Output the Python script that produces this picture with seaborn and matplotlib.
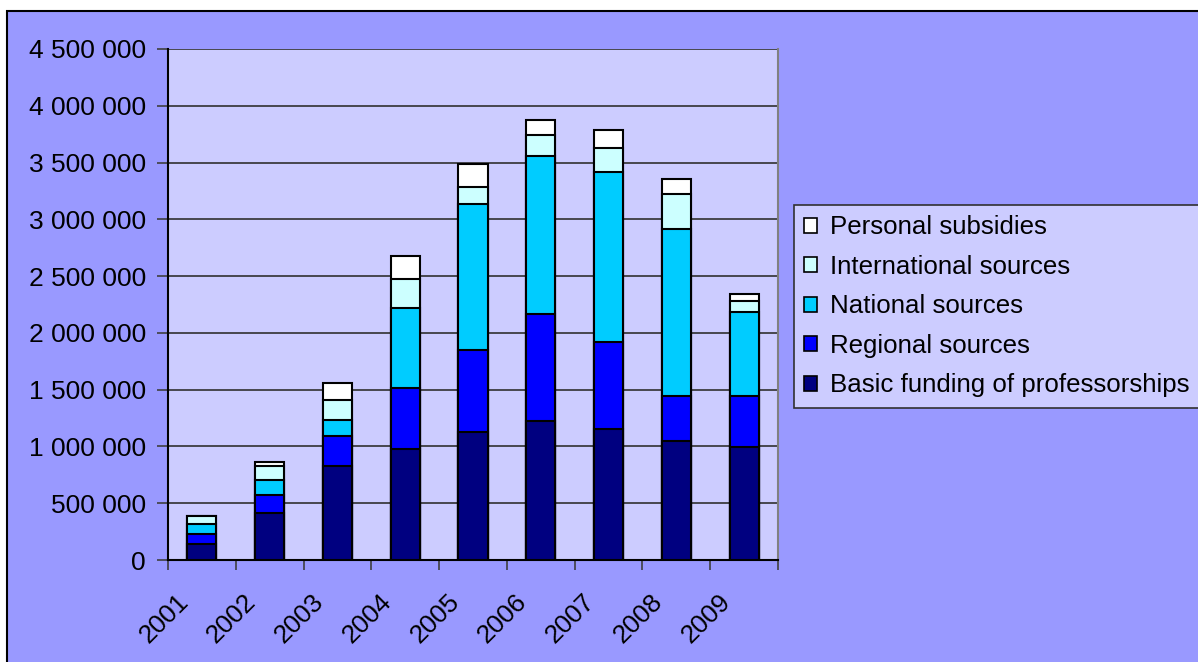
import numpy as np
import pandas as pd
import seaborn as sns
import matplotlib.pyplot as plt
import matplotlib.transforms as mtransforms
from matplotlib.patches import Rectangle, Patch
from matplotlib.ticker import FuncFormatter, MultipleLocator, FixedLocator

# data
years = ['2001', '2002', '2003', '2004', '2005', '2006', '2007', '2008', '2009']
basic = [138000, 414000, 830000, 980000, 1124000, 1226000, 1153000, 1050000, 995000]
regional = [91000, 158000, 262000, 534000, 727000, 942000, 766000, 394000, 449000]
national = [85000, 132000, 143000, 707000, 1283000, 1388000, 1494000, 1472000, 736000]
international = [73000, 126000, 176000, 250000, 147000, 191000, 214000, 303000, 97000]
personal = [0, 35000, 147000, 205000, 205000, 129000, 161000, 135000, 65000]

series = ['Basic funding of professorships', 'Regional sources', 'National sources',
          'International sources', 'Personal subsidies']
colors = ['#000080', '#0000FF', '#00CCFF', '#CCFFFF', '#FFFFFF']

df = pd.DataFrame({'year': years, series[0]: basic, series[1]: regional,
                   series[2]: national, series[3]: international, series[4]: personal})
cum = df[series].cumsum(axis=1)

sns.set_style('white')
plt.rcParams['font.family'] = ['Liberation Sans', 'DejaVu Sans']
plt.rcParams['text.color'] = 'black'
plt.rcParams['xtick.color'] = 'black'
plt.rcParams['ytick.color'] = 'black'

fig = plt.figure(figsize=(11.98, 6.62), dpi=100, facecolor='white')
# outer chart area
bg = Rectangle((7 / 1198, -0.05), 1.1, (651 / 662) + 0.05,
               transform=fig.transFigure, facecolor='#9999FF',
               edgecolor='black', linewidth=1.5, zorder=-10)
fig.add_artist(bg)

ax = fig.add_axes([168 / 1198, 1 - 560 / 662, 610 / 1198, 511 / 662])
ax.set_facecolor('#CCCCFF')

# stacked bars: draw cumulative totals from tallest to shortest
for name, col in zip(series[::-1], colors[::-1]):
    sns.barplot(x=df['year'], y=cum[name], color=col, saturation=1, width=0.43,
                edgecolor='black', linewidth=1.5, ax=ax, zorder=3)

ax.set_xlim(-0.5, 8.5)
ax.set_ylim(0, 4500000)
ax.yaxis.set_major_locator(MultipleLocator(500000))
ax.yaxis.set_major_formatter(FuncFormatter(lambda v, p: f'{v:,.0f}'.replace(',', ' ')))
ax.grid(axis='y', color='#303030', linewidth=1.2, zorder=1)
ax.set_axisbelow(True)
ax.set_xlabel('')
ax.set_ylabel('')

ax.xaxis.set_minor_locator(FixedLocator(np.arange(-0.5, 9.0, 1.0)))
ax.tick_params(axis='x', which='major', length=0, pad=21, labelsize=18.8)
ax.tick_params(axis='x', which='minor', length=7, width=1.2, color='#404040', direction='out')
ax.tick_params(axis='y', length=8, width=1.2, color='#404040', labelcolor='black',
               direction='out', labelsize=19, pad=8)
ax.tick_params(bottom=True, left=True)
ax.tick_params(axis='x', which='minor', bottom=True)

offset = mtransforms.ScaledTranslation(-0.09, 0, fig.dpi_scale_trans)
for lbl in ax.get_xticklabels():
    lbl.set_rotation(45)
    lbl.set_ha('right')
    lbl.set_transform(lbl.get_transform() + offset)

for s in ['left', 'bottom']:
    ax.spines[s].set_color('black')
    ax.spines[s].set_linewidth(1.5)
ax.spines['top'].set_visible(False)
ax.spines['right'].set_color('#808080')
ax.spines['right'].set_linewidth(1.5)

handles = [Patch(facecolor=c, edgecolor='black', linewidth=1.2) for c in colors[::-1]]
leg = fig.legend(handles, series[::-1], loc='upper left',
                 bbox_to_anchor=(794 / 1198, 1 - 205 / 662), fontsize=18.6,
                 fancybox=False, framealpha=1, facecolor='#CCCCFF', edgecolor='#303030',
                 handlelength=0.5, handleheight=0.5, handletextpad=0.5,
                 labelspacing=0.6, borderpad=0.4, borderaxespad=0)
leg.get_frame().set_linewidth(1.2)

fig.savefig('out.png', dpi=100, facecolor='white')
